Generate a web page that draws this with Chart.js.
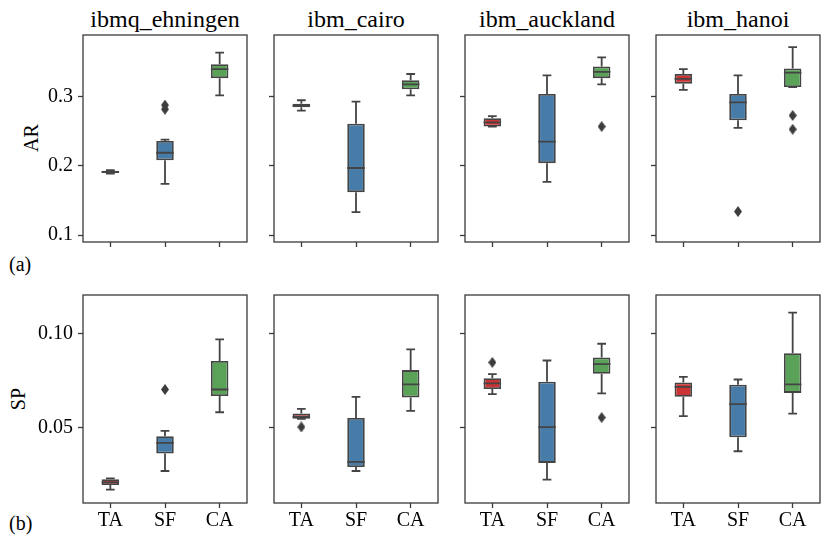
<!DOCTYPE html>
<html>
<head>
<meta charset="utf-8">
<script src="https://cdn.jsdelivr.net/npm/chart.js@4"></script>
<style>
  body { margin: 0; background: #fff; width: 830px; height: 542px; position: relative; overflow: hidden; color: #000; }
  canvas { position: absolute; }
  .lbl { position: absolute; white-space: nowrap; line-height: 1; }
  .title { font-size: 24px; width: 164px; text-align: center; top: 7px; }
  .ylab { font-size: 20px; transform: translate(-50%, -50%) rotate(-90deg); }
  .tag { font-size: 20px; left: 9px; }
</style>
</head>
<body>
<script>
// categories and panels
const categories = ['TA', 'SF', 'CA'];
const devices = ['ibmq_ehningen', 'ibm_cairo', 'ibm_auckland', 'ibm_hanoi'];
const fills = ['#cb3335', '#477ca8', '#59a257'];

// AR: one row per device, columns TA / SF / CA
const arLow  = [[0.189, 0.174, 0.302], [0.280, 0.133, 0.302], [0.257, 0.177, 0.318], [0.310, 0.255, 0.314]];
const arQ1   = [[0.190, 0.208, 0.327], [0.285, 0.162, 0.311], [0.257, 0.204, 0.327], [0.319, 0.266, 0.314]];
const arMed  = [[0.191, 0.219, 0.340], [0.287, 0.197, 0.318], [0.263, 0.235, 0.336], [0.326, 0.292, 0.335]];
const arQ3   = [[0.193, 0.236, 0.347], [0.290, 0.261, 0.324], [0.269, 0.304, 0.344], [0.333, 0.304, 0.341]];
const arHigh = [[0.194, 0.238, 0.364], [0.295, 0.293, 0.333], [0.272, 0.331, 0.357], [0.340, 0.331, 0.372]];
// [device, category, value]
const arOutliers = [[0, 'SF', 0.288], [0, 'SF', 0.282], [2, 'CA', 0.257], [3, 'SF', 0.134], [3, 'CA', 0.273], [3, 'CA', 0.253]];
const arTicks = [0.1, 0.2, 0.3];

// SP
const spLow  = [[0.0170, 0.0269, 0.0581], [0.0546, 0.0269, 0.0588], [0.0677, 0.0223, 0.0681], [0.0560, 0.0374, 0.0574]];
const spQ1   = [[0.0195, 0.0362, 0.0667], [0.0546, 0.0290, 0.0660], [0.0705, 0.0312, 0.0785], [0.0663, 0.0448, 0.0684]];
const spMed  = [[0.0209, 0.0418, 0.0702], [0.0556, 0.0317, 0.0729], [0.0735, 0.0502, 0.0837], [0.0716, 0.0624, 0.0729]];
const spQ3   = [[0.0225, 0.0454, 0.0854], [0.0574, 0.0551, 0.0805], [0.0762, 0.0743, 0.0872], [0.0739, 0.0727, 0.0895]];
const spHigh = [[0.0230, 0.0482, 0.0968], [0.0599, 0.0663, 0.0915], [0.0784, 0.0856, 0.0945], [0.0769, 0.0755, 0.1110]];
const spOutliers = [[0, 'SF', 0.0702], [1, 'TA', 0.0503], [2, 'TA', 0.0846], [2, 'CA', 0.0553]];
const spTicks = [0.05, 0.10];

const edge = '#444444';
const serif = "'Liberation Serif'";
const panelLeft = [83, 274, 465, 656];
const panelW = 164;

Chart.defaults.font.family = serif;

// thin diamond marker like seaborn's 'd'
const diamond = document.createElement('canvas');
diamond.width = 8; diamond.height = 11;
(function () {
  const c = diamond.getContext('2d');
  c.fillStyle = '#3d3d3d';
  c.beginPath();
  c.moveTo(4, 0); c.lineTo(8, 5.5); c.lineTo(4, 11); c.lineTo(0, 5.5); c.closePath();
  c.fill();
})();

function boxParts(low, med, high) {
  return {
    id: 'boxParts',
    beforeDatasetsDraw(chart) {
      const a = chart.chartArea, ctx = chart.ctx;
      ctx.save();
      ctx.strokeStyle = '#3a3a3a';
      ctx.lineWidth = 1.3;
      ctx.strokeRect(a.left, a.top, a.right - a.left, a.bottom - a.top);
      ctx.restore();
    },
    afterDatasetsDraw(chart) {
      const ctx = chart.ctx, y = chart.scales.y;
      const meta = chart.getDatasetMeta(0);
      const boxes = chart.data.datasets[0].data;
      ctx.save();
      ctx.strokeStyle = edge;
      ctx.lineWidth = 1.8;
      meta.data.forEach((bar, i) => {
        const x = bar.x, w = bar.width;
        const yLo = y.getPixelForValue(low[i]), yHi = y.getPixelForValue(high[i]);
        const yQ1 = y.getPixelForValue(boxes[i][0]), yQ3 = y.getPixelForValue(boxes[i][1]);
        const yMed = y.getPixelForValue(med[i]);
        ctx.beginPath();
        ctx.moveTo(x, yQ3); ctx.lineTo(x, yHi);
        ctx.moveTo(x, yQ1); ctx.lineTo(x, yLo);
        ctx.moveTo(x - w / 4, yHi); ctx.lineTo(x + w / 4, yHi);
        ctx.moveTo(x - w / 4, yLo); ctx.lineTo(x + w / 4, yLo);
        ctx.moveTo(x - w / 2, yMed); ctx.lineTo(x + w / 2, yMed);
        ctx.stroke();
      });
      ctx.restore();
    }
  };
}

function makePanel(row, col) {
  const isAR = row === 0;
  const q1 = (isAR ? arQ1 : spQ1)[col], q3 = (isAR ? arQ3 : spQ3)[col];
  const low = (isAR ? arLow : spLow)[col], high = (isAR ? arHigh : spHigh)[col];
  const med = (isAR ? arMed : spMed)[col];
  const outl = (isAR ? arOutliers : spOutliers).filter(o => o[0] === col).map(o => ({ x: o[1], y: o[2] }));
  const tickVals = isAR ? arTicks : spTicks;
  const digits = isAR ? 1 : 2;

  const yAxisW = col === 0 ? 83 : 10;
  const xAxisH = row === 0 ? 8 : 35;
  const plotH = row === 0 ? 207 : 208;
  const top = row === 0 ? 33 : 293;

  const cv = document.createElement('canvas');
  cv.width = yAxisW + panelW + 3;
  cv.height = 2 + plotH + xAxisH;
  cv.style.left = (panelLeft[col] - yAxisW) + 'px';
  cv.style.top = top + 'px';
  document.body.appendChild(cv);

  new Chart(cv.getContext('2d'), {
    type: 'bar',
    data: {
      labels: categories,
      datasets: [{
        type: 'bar',
        data: categories.map((c, i) => [q1[i], q3[i]]),
        backgroundColor: fills,
        borderColor: edge,
        borderWidth: 1.8,
        borderSkipped: false,
        categoryPercentage: 1,
        barPercentage: 0.32
      }, {
        type: 'line',
        data: outl,
        showLine: false,
        pointStyle: diamond,
        pointRadius: 5
      }]
    },
    options: {
      responsive: false,
      animation: false,
      layout: { autoPadding: false, padding: { left: 0, right: 3, top: 2, bottom: 0 } },
      plugins: { legend: { display: false }, tooltip: { enabled: false } },
      scales: {
        x: {
          offset: true,
          grid: { display: true, drawOnChartArea: false, drawTicks: true, tickLength: 5, tickColor: '#3a3a3a', tickWidth: 1.3, offset: false },
          border: { display: false },
          ticks: {
            display: row === 1, padding: 1, color: '#000',
            font: { family: serif, size: 20 }
          },
          afterFit(s) { s.height = xAxisH; s.paddingLeft = 0; s.paddingRight = 0; }
        },
        y: {
          min: isAR ? 0.0899 : 0.0099,
          max: isAR ? 0.3894 : 0.1204,
          grid: { display: true, drawOnChartArea: false, drawTicks: true, tickLength: 5, tickColor: '#3a3a3a', tickWidth: 1.3 },
          border: { display: false },
          afterBuildTicks(s) { s.ticks = tickVals.map(v => ({ value: v })); },
          ticks: {
            display: col === 0, padding: 5, color: '#000',
            font: { family: serif, size: 20 },
            callback: v => Number(v).toFixed(digits)
          },
          afterFit(s) { s.width = yAxisW; s.paddingTop = 0; s.paddingBottom = 0; }
        }
      }
    },
    plugins: [boxParts(low, med, high)]
  });
}

function addLabel(text, cls, x, y) {
  const el = document.createElement('div');
  el.className = 'lbl ' + cls;
  el.textContent = text;
  el.style.fontFamily = serif;
  if (x !== null) el.style.left = x + 'px';
  el.style.top = y + 'px';
  document.body.appendChild(el);
}

// panel titles and labels
devices.forEach((d, i) => addLabel(d, 'title', panelLeft[i], 7));
addLabel('AR', 'ylab', 31, 138);
addLabel('SP', 'ylab', 18, 399);
addLabel('(a)', 'tag', null, 254);
addLabel('(b)', 'tag', null, 513);

function drawAll() {
  for (let r = 0; r < 2; r++) {
    for (let c = 0; c < 4; c++) makePanel(r, c);
  }
}
if (document.fonts && document.fonts.load) {
  document.fonts.load("20px 'Liberation Serif'").then(drawAll, drawAll);
} else {
  drawAll();
}
</script>
</body>
</html>
